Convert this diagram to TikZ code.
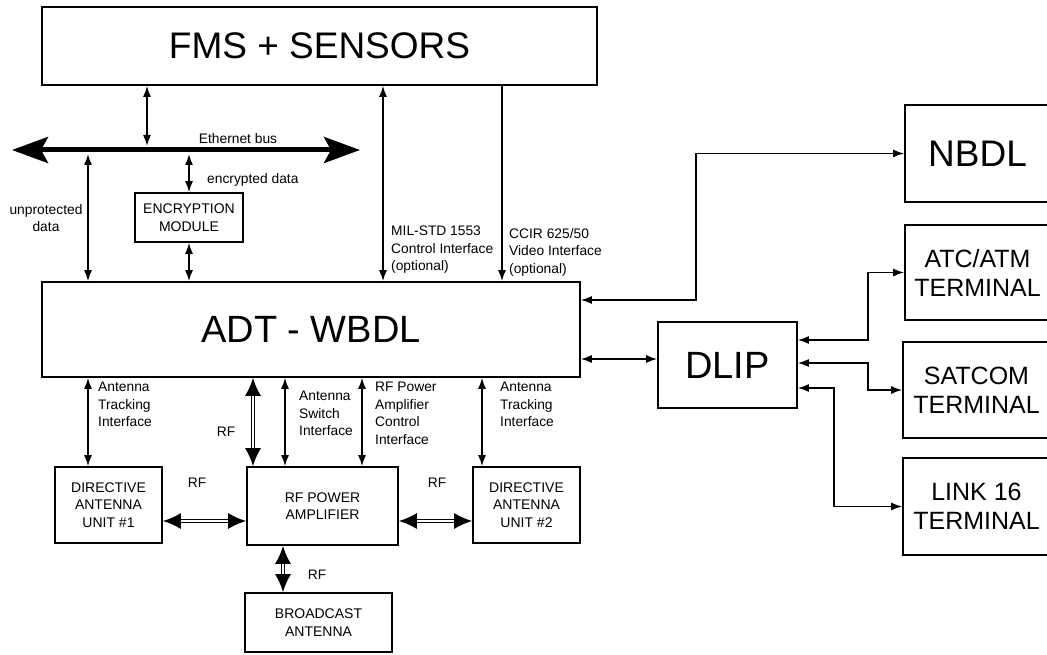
\documentclass[tikz,border=0pt]{standalone}
\usepackage{fontspec}
\setmainfont{Liberation Sans}
\usetikzlibrary{arrows.meta,positioning,calc}

\begin{document}
\begin{tikzpicture}[x=1pt, y=-1pt,
  box/.style={draw, line width=1.6pt, align=center, inner sep=0pt},
  big/.style={font=\fontsize{37}{40}\selectfont},
  term/.style={font=\fontsize{25}{29}\selectfont},
  unit/.style={font=\fontsize{14}{17.5}\selectfont},
  lab/.style={font=\fontsize{13.8}{17.5}\selectfont, align=left, inner sep=0pt},
  link/.style={{Latex[length=11pt,width=8pt]}-{Latex[length=11pt,width=8pt]}, line width=1.6pt},
  one/.style={-{Latex[length=11pt,width=8pt]}, line width=1.6pt},
  rf/.style={{Latex[length=18pt,width=16pt]}-{Latex[length=18pt,width=16pt]}, double, double distance=1.3pt, line width=1.8pt},
  bus/.style={{Stealth[length=36pt,width=26pt,inset=7pt]}-{Stealth[length=36pt,width=26pt,inset=7pt]}, line width=5pt}]
\path[fill=white, use as bounding box] (0,0) rectangle (1047,655);
\node[box, big, minimum width=555pt, minimum height=78pt] (fms) at (319.5,46) {FMS + SENSORS};
\node[box, big, font=\fontsize{38}{40}\selectfont, minimum width=538pt, minimum height=95pt] (adt) at (311,329.5) {ADT - WBDL};
\node[box, unit, minimum width=108pt, minimum height=49pt] (enc) at (189,217.5) {ENCRYPTION\\MODULE};
\node[box, big, font=\fontsize{38}{40}\selectfont, minimum width=139pt, minimum height=86pt] (dlip) at (727.5,365) {DLIP};
\node[box, big, minimum width=145pt, minimum height=97pt] (nbdl) at (977.5,153.5) {NBDL};
\node[box, term, minimum width=145pt, minimum height=95pt] (atc) at (977.5,272.5) {ATC/ATM\\TERMINAL};
\node[box, term, minimum width=147pt, minimum height=96pt] (sat) at (976.5,390) {SATCOM\\TERMINAL};
\node[box, term, minimum width=147pt, minimum height=97pt] (link) at (976.5,506.5) {LINK 16\\TERMINAL};
\node[box, unit, minimum width=107pt, minimum height=76pt] (dir1) at (108.5,505) {DIRECTIVE\\ANTENNA\\UNIT \#1};
\node[box, unit, minimum width=151pt, minimum height=78pt] (amp) at (322.5,506) {RF POWER\\AMPLIFIER};
\node[box, unit, minimum width=107pt, minimum height=76pt] (dir2) at (526.5,505) {DIRECTIVE\\ANTENNA\\UNIT \#2};
\node[box, unit, minimum width=147pt, minimum height=59pt] (bcast) at (318.5,622.5) {BROADCAST\\ANTENNA};
\coordinate (busL) at (12,150);
\coordinate (busR) at (360,150);
\coordinate (tap1) at (147,146);
\coordinate (tap2) at (88,154);
\coordinate (tap3) at (189,154);
\coordinate (c-mil) at (383,0);
\coordinate (c-ccir) at (502,0);
\coordinate (c-trk1) at (88,0);
\coordinate (c-rf) at (253,0);
\coordinate (c-sw) at (285,0);
\coordinate (c-ctl) at (362,0);
\coordinate (c-trk2) at (482,0);
\coordinate (c-bc) at (283,0);
\coordinate (r-nb) at (0,300);
\coordinate (r-dl) at (0,359);
\coordinate (r-rf) at (0,521);
\draw[bus] (busL) -- (busR);
\node[lab] (ethlab) at (238,139) {Ethernet bus};
\draw[link] (fms.south -| tap1) -- (tap1);
\draw[link] (tap2) -- (adt.north -| tap2);
\node[lab, align=center] (unplab) at (46,218) {unprotected\\data};
\draw[link] (tap3) -- (enc.north);
\node[lab, anchor=west] (enclab) at (207,180) {encrypted data};
\draw[link] (enc.south) -- (adt.north -| enc.south);
\draw[link] (fms.south -| c-mil) -- (adt.north -| c-mil);
\node[lab, anchor=north west] (millab) at (391,226) {MIL-STD 1553\\Control Interface\\(optional)};
\draw[one] (fms.south -| c-ccir) -- (adt.north -| c-ccir);
\node[lab, anchor=north west] (ccirlab) at (509,228) {CCIR 625/50\\Video Interface\\(optional)};
\draw[link] (adt.east |- r-nb) -- ++(115,0) |- (nbdl.west);
\draw[link] (adt.east |- r-dl) -- (dlip.west |- r-dl);
\draw[link] ([yshift=25pt]dlip.east) -- ++(70,0) |- (atc.west);
\draw[link] ([yshift=2pt]dlip.east) -- ++(70,0) |- (sat.west);
\draw[link] ([yshift=-23pt]dlip.east) -- ++(36,0) |- (link.west);
\draw[link] (adt.south -| c-trk1) -- (dir1.north -| c-trk1);
\node[lab, anchor=north west] (trk1lab) at (98,382) {Antenna\\Tracking\\Interface};
\draw[rf] (adt.south -| c-rf) -- (amp.north -| c-rf);
\node[lab] (rflab1) at (226,432) {RF};
\draw[link] (adt.south -| c-sw) -- (amp.north -| c-sw);
\node[lab, anchor=north west] (swlab) at (299,391) {Antenna\\Switch\\Interface};
\draw[link] (adt.south -| c-ctl) -- (amp.north -| c-ctl);
\node[lab, anchor=north west] (ctllab) at (375,382) {RF Power\\Amplifier\\Control\\Interface};
\draw[link] (adt.south -| c-trk2) -- (dir2.north -| c-trk2);
\node[lab, anchor=north west] (trk2lab) at (500,382) {Antenna\\Tracking\\Interface};
\draw[rf] (dir1.east |- r-rf) -- (amp.west |- r-rf);
\node[lab] (rflab2) at (197,483) {RF};
\draw[rf] (amp.east |- r-rf) -- (dir2.west |- r-rf);
\node[lab] (rflab3) at (437,483) {RF};
\draw[rf] (amp.south -| c-bc) -- (bcast.north -| c-bc);
\node[lab] (rflab4) at (317,575) {RF};
\end{tikzpicture}
\end{document}
